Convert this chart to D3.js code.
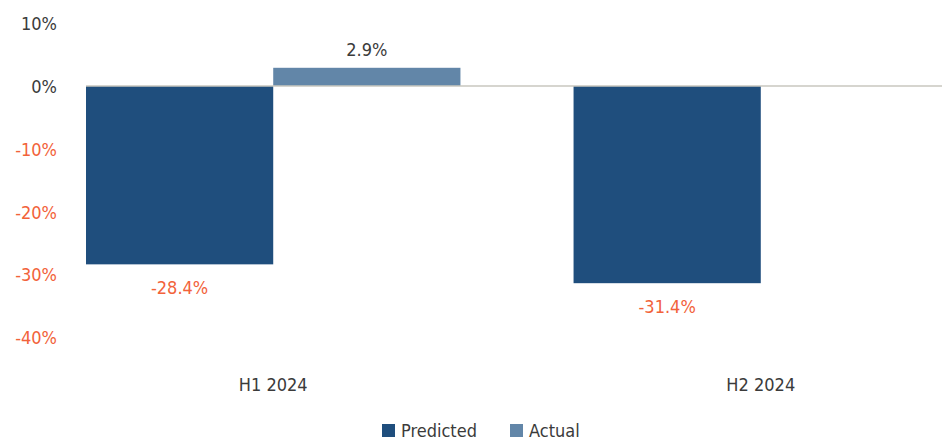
<!DOCTYPE html>
<html>
<head>
<meta charset="utf-8">
<script src="https://cdn.jsdelivr.net/npm/d3@7"></script>
<style>
  html, body { margin: 0; padding: 0; background: #fff; }
  svg { display: block; font-family: "DejaVu Sans Condensed", "DejaVu Sans", sans-serif; }
</style>
</head>
<body>
<svg id="chart" width="942" height="440"></svg>
<script>
// Half-year periods and the two series (percent change)
const categories = ["H1 2024", "H2 2024"];
const seriesNames = ["Predicted", "Actual"];
const predicted = [-28.4, -31.4];
const actual = [2.9, null];
const yTicks = [10, 0, -10, -20, -30, -40];

const colors = { Predicted: "#1f4e7d", Actual: "#6286a8" };
const negColor = "#f2623a";
const textColor = "#3b3b3b";
const fontFamily = "DejaVu Sans Condensed, DejaVu Sans, sans-serif";
const fontSize = 18;

const width = 942, height = 440;
const svg = d3.select("#chart");

const rows = categories.map((c, i) => ({
  category: c,
  values: [
    { series: "Predicted", value: predicted[i] },
    { series: "Actual", value: actual[i] }
  ]
}));

const x = d3.scaleBand().domain(categories).range([86, 948]).paddingInner(0.232).paddingOuter(0);
const xs = d3.scaleBand().domain(seriesNames).range([0, x.bandwidth()]).padding(0);
const y = d3.scaleLinear().domain([-40, 10]).range([337.2, 23.2]);

// Y tick labels (no axis line)
const yAxis = d3.axisLeft(y).tickValues(yTicks).tickSize(0).tickPadding(0)
  .tickFormat(d => d + "%");
const gy = svg.append("g").attr("transform", "translate(57,0)").call(yAxis);
gy.select(".domain").remove();
gy.selectAll("text")
  .attr("font-size", fontSize)
  .attr("font-family", fontFamily)
  .attr("fill", d => d < 0 ? negColor : textColor)
  .attr("dy", "0.36em");

// Bars
const groups = svg.append("g").selectAll("g").data(rows).join("g")
  .attr("transform", d => `translate(${x(d.category)},0)`);

groups.selectAll("rect")
  .data(d => d.values.filter(v => v.value != null))
  .join("rect")
  .attr("x", d => xs(d.series))
  .attr("width", xs.bandwidth())
  .attr("y", d => y(Math.max(0, d.value)))
  .attr("height", d => Math.abs(y(d.value) - y(0)))
  .attr("fill", d => colors[d.series]);

// Zero line
svg.append("line")
  .attr("x1", x(categories[0])).attr("x2", width)
  .attr("y1", y(0)).attr("y2", y(0))
  .attr("stroke", "#c9c7bf").attr("stroke-width", 1.5);

// Value labels
groups.selectAll("text.val")
  .data(d => d.values.filter(v => v.value != null))
  .join("text")
  .attr("class", "val")
  .attr("x", d => xs(d.series) + xs.bandwidth() / 2)
  .attr("y", d => d.value >= 0 ? y(d.value) - 11.5 : y(d.value) + 30)
  .attr("text-anchor", "middle")
  .attr("font-size", fontSize)
  .attr("fill", d => d.value < 0 ? negColor : textColor)
  .text(d => d.value.toFixed(1) + "%");

// Category labels
const xAxis = d3.axisBottom(x).tickSize(0).tickPadding(0);
const gx = svg.append("g").attr("transform", "translate(0,390.5)").call(xAxis);
gx.select(".domain").remove();
gx.selectAll("text")
  .attr("font-size", fontSize)
  .attr("font-family", fontFamily)
  .attr("fill", textColor)
  .attr("dy", 0);

// Legend
const legendX = [382, 510];
const legend = svg.append("g").selectAll("g").data(seriesNames).join("g")
  .attr("transform", (d, i) => `translate(${legendX[i]},424)`);
legend.append("rect").attr("width", 13).attr("height", 13).attr("fill", d => colors[d]);
legend.append("text").attr("x", 19).attr("y", 13)
  .attr("font-size", fontSize).attr("fill", textColor).text(d => d);
</script>
</body>
</html>
